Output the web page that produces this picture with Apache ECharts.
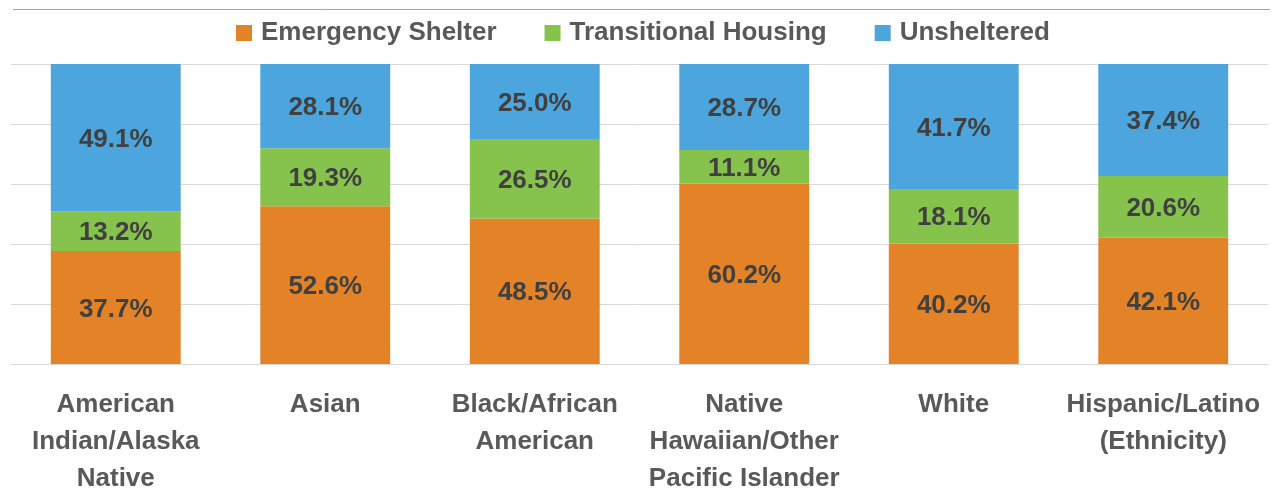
<!DOCTYPE html>
<html>
<head>
<meta charset="utf-8">
<script src="https://cdn.jsdelivr.net/npm/echarts@6/dist/echarts.min.js"></script>
<style>
  html, body { margin: 0; padding: 0; background: #fff; }
  #chart { width: 1278px; height: 489px; }
</style>
</head>
<body>
<div id="chart"></div>
<script>
// categories along the x axis
const categories = [
  "American\nIndian/Alaska\nNative",
  "Asian",
  "Black/African\nAmerican",
  "Native\nHawaiian/Other\nPacific Islander",
  "White",
  "Hispanic/Latino\n(Ethnicity)"
];
// share of each group, in percent
const emergencyShelter = [37.7, 52.6, 48.5, 60.2, 40.2, 42.1];
const transitionalHousing = [13.2, 19.3, 26.5, 11.1, 18.1, 20.6];
const unsheltered = [49.1, 28.1, 25.0, 28.7, 41.7, 37.4];

const fontFamily = "'Liberation Sans', sans-serif";

const chart = echarts.init(document.getElementById("chart"));

function makeSeries(name, data, color) {
  return {
    name: name,
    type: "bar",
    stack: "total",
    barWidth: "62%",
    data: data,
    itemStyle: { color: color },
    label: {
      show: true,
      position: "inside",
      offset: [0, 2],
      formatter: (p) => p.value.toFixed(1) + "%",
      color: "#404040",
      fontFamily: fontFamily,
      fontWeight: "bold",
      fontSize: 26
    }
  };
}

chart.setOption({
  animation: false,
  grid: {
    left: 11,
    right: 10,
    top: 64,
    bottom: 125,
    containLabel: false,
    outerBoundsMode: "none"
  },
  legend: {
    top: 15,
    left: 231,
    itemWidth: 16,
    itemHeight: 16,
    itemGap: 48,
    icon: "rect",
    textStyle: {
      color: "#595959",
      fontFamily: fontFamily,
      fontWeight: "bold",
      fontSize: 26,
      padding: [0, 0, 0, 4]
    },
    data: ["Emergency Shelter", "Transitional Housing", "Unsheltered"]
  },
  xAxis: {
    type: "category",
    data: categories,
    axisLine: { lineStyle: { color: "#D9D9D9", width: 1 } },
    axisTick: { show: false },
    axisLabel: {
      interval: 0,
      margin: 22,
      color: "#595959",
      fontFamily: fontFamily,
      fontWeight: "bold",
      fontSize: 26,
      lineHeight: 37
    }
  },
  yAxis: {
    type: "value",
    min: 0,
    max: 100,
    interval: 20,
    axisLabel: { show: false },
    axisLine: { show: false },
    axisTick: { show: false },
    splitLine: { lineStyle: { color: "#D9D9D9", width: 1 } }
  },
  graphic: [
    {
      type: "line",
      shape: { x1: 13, y1: 9.5, x2: 1270, y2: 9.5 },
      style: { stroke: "#A6A6A6", lineWidth: 1 }
    }
  ],
  series: [
    makeSeries("Emergency Shelter", emergencyShelter, "#E48228"),
    makeSeries("Transitional Housing", transitionalHousing, "#86C34C"),
    makeSeries("Unsheltered", unsheltered, "#4DA5DD")
  ]
});
</script>
</body>
</html>
